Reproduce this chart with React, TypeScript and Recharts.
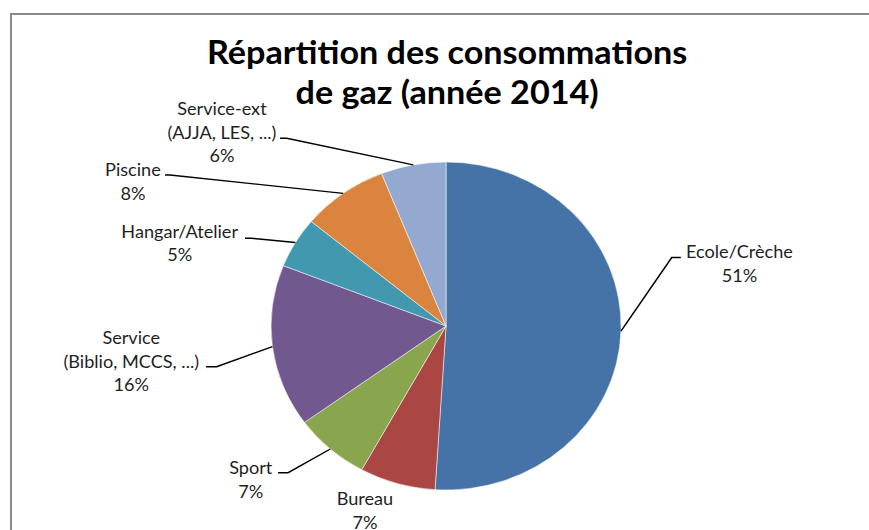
import React from 'react';
import { PieChart, Pie, Cell } from 'recharts';

const categories = [
  'Ecole/Crèche',
  'Bureau',
  'Sport',
  'Service (Biblio, MCCS, ...)',
  'Hangar/Atelier',
  'Piscine',
  'Service-ext (AJJA, LES, ...)',
];
const labelLines = [
  ['Ecole/Crèche'],
  ['Bureau'],
  ['Sport'],
  ['Service', '(Biblio, MCCS, ...)'],
  ['Hangar/Atelier'],
  ['Piscine'],
  ['Service-ext', '(AJJA, LES, ...)'],
];
const shares = [51, 7, 7, 16, 5, 8, 6];
const colors = ['#4572A7', '#AA4643', '#89A54E', '#71588F', '#4198AF', '#DB843D', '#93A9CF'];
const titleLines = ['Répartition des consommations', 'de gaz (année 2014)'];

// label layout (unstretched chart coordinates): text center x, first line center y, elbow point, horizontal end x
const labelLayout = [
  { tx: 693, ty: 252, ex: 629.5, ey: 257.5, hx: 638, line: true },
  { tx: 342, ty: 499, ex: 0, ey: 0, hx: 0, line: false },
  { tx: 235, ty: 468, ex: 270, ey: 472.7, hx: 260.5, line: true },
  { tx: 123, ty: 338, ex: 203, ey: 366.7, hx: 193, line: true },
  { tx: 168.4, ty: 231.7, ex: 235.9, ey: 238.3, hx: 229.6, line: true },
  { tx: 124.6, ty: 170, ex: 159.3, ey: 175, hx: 154.6, line: true },
  { tx: 208, ty: 109, ex: 268.7, ey: 138.3, hx: 262.4, line: true },
];

const data = categories.map((name, i) => ({ name, value: shares[i] }));

const STRETCH = 1.0671;
const W = 869;
const H = 530;
const RAD = Math.PI / 180;
const FONT = 'Lato, "Open Sans", sans-serif';

const renderLabel = (props: any) => {
  const { cx, cy, midAngle, outerRadius, index, percent } = props;
  const L = labelLayout[index];
  const lines = [...labelLines[index], `${Math.round(percent * 100)}%`];
  const sx = cx + outerRadius * Math.cos(-midAngle * RAD);
  const sy = cy + outerRadius * Math.sin(-midAngle * RAD);
  const lh = 23.5;
  return (
    <g key={`lab-${index}`}>
      {L.line && (
        <path
          d={`M${sx},${sy}L${L.ex},${L.ey}L${L.hx},${L.ey}`}
          stroke="#000"
          strokeWidth={1.4}
          fill="none"
        />
      )}
      {lines.map((t, k) => (
        <text
          key={k}
          x={L.tx}
          y={L.ty + k * lh}
          textAnchor="middle"
          dominantBaseline="central"
          fontFamily={FONT}
          fontSize={17}
          fill="#1f1f1f"
        >
          {t}
        </text>
      ))}
    </g>
  );
};

export default function App() {
  const innerW = W / STRETCH;
  return (
    <div style={{ position: 'absolute', left: 0, top: 0, width: W, height: H, background: '#fff', overflow: 'hidden' }}>
      <div
        style={{
          position: 'absolute',
          left: 10,
          top: 13,
          width: 1000,
          height: 1000,
          border: '2px solid #8a8a8a',
        }}
      />
      <div
        style={{
          position: 'absolute',
          left: 0,
          top: 0,
          width: innerW,
          height: H,
          transform: `scaleX(${STRETCH})`,
          transformOrigin: '0 0',
        }}
      >
        {titleLines.map((t, i) => (
          <div
            key={i}
            style={{
              position: 'absolute',
              left: 0,
              width: 838,
              top: 52 + i * 40 - 20,
              height: 40,
              lineHeight: '40px',
              textAlign: 'center',
              fontFamily: FONT,
              fontWeight: 700,
              fontSize: 32,
              color: '#000',
              whiteSpace: 'nowrap',
            }}
          >
            {t}
          </div>
        ))}
        <div style={{ position: 'absolute', left: 0, top: 0 }}>
          <PieChart width={innerW} height={H} margin={{ top: 0, right: 0, bottom: 0, left: 0 }}>
            <Pie
              data={data}
              dataKey="value"
              nameKey="name"
              cx={418}
              cy={326}
              outerRadius={164}
              startAngle={90}
              endAngle={-270}
              stroke="#ffffff"
              strokeWidth={0.5}
              isAnimationActive={false}
              labelLine={false}
              label={renderLabel}
            >
              {data.map((d, i) => (
                <Cell key={d.name} fill={colors[i]} />
              ))}
            </Pie>
          </PieChart>
        </div>
      </div>
    </div>
  );
}
